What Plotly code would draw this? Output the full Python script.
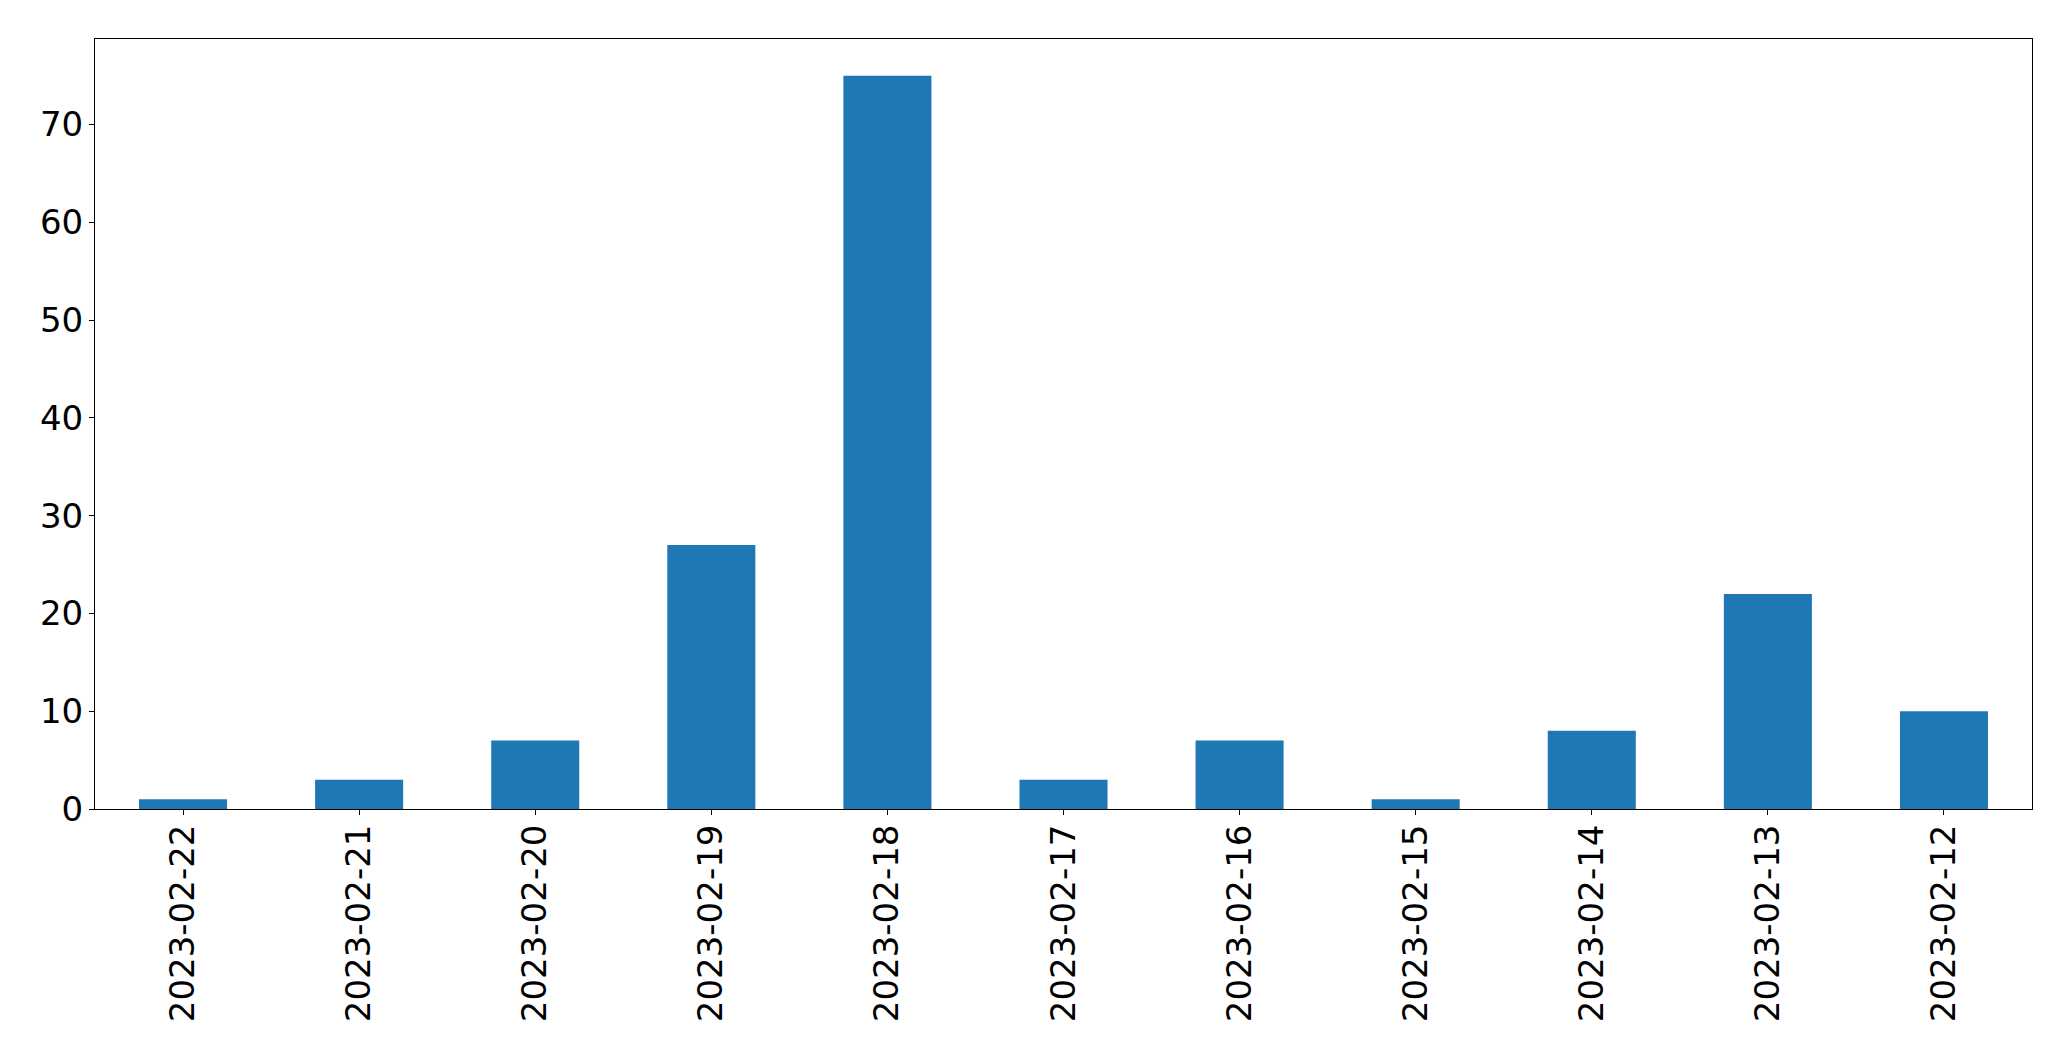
import plotly.graph_objects as go

dates = ["2023-02-22", "2023-02-21", "2023-02-20", "2023-02-19", "2023-02-18",
         "2023-02-17", "2023-02-16", "2023-02-15", "2023-02-14", "2023-02-13", "2023-02-12"]
counts = [1, 3, 7, 27, 75, 3, 7, 1, 8, 22, 10]
y_ticks = [0, 10, 20, 30, 40, 50, 60, 70]

# page has an 8px body margin; size the figure to fit inside the viewport
OFF = 8
W, H = 2071 - 2 * OFF, 1061 - 2 * OFF
L = 94.7 - OFF
T = 39 - OFF
R = (W + OFF) - 2031.7
B = (H + OFF) - 809

fig = go.Figure(go.Bar(x=dates, y=counts, width=0.5, marker=dict(color="#1f77b4", line=dict(width=0))))

font = dict(family="DejaVu Sans", size=34, color="black")
fig.update_layout(
    width=W, height=H,
    margin=dict(l=L, r=R, t=T, b=B, autoexpand=False),
    plot_bgcolor="white", paper_bgcolor="white",
    showlegend=False,
    font=font,
)
fig.update_xaxes(
    type="category", range=[-0.5, len(dates) - 0.5],
    tickangle=-90, ticks="outside", ticklen=5, tickwidth=1, tickcolor="black",
    showline=True, linecolor="black", linewidth=1, mirror=True,
    showgrid=False, zeroline=False, tickfont=font, ticklabelstandoff=-4,
)
fig.update_yaxes(
    range=[0, max(counts) * 1.05], tickvals=y_ticks,
    ticks="outside", ticklen=5, tickwidth=1, tickcolor="black",
    showline=True, linecolor="black", linewidth=1, mirror=True,
    showgrid=False, zeroline=False, tickfont=font, ticklabelstandoff=-1,
)
fig.write_html("out.html")
